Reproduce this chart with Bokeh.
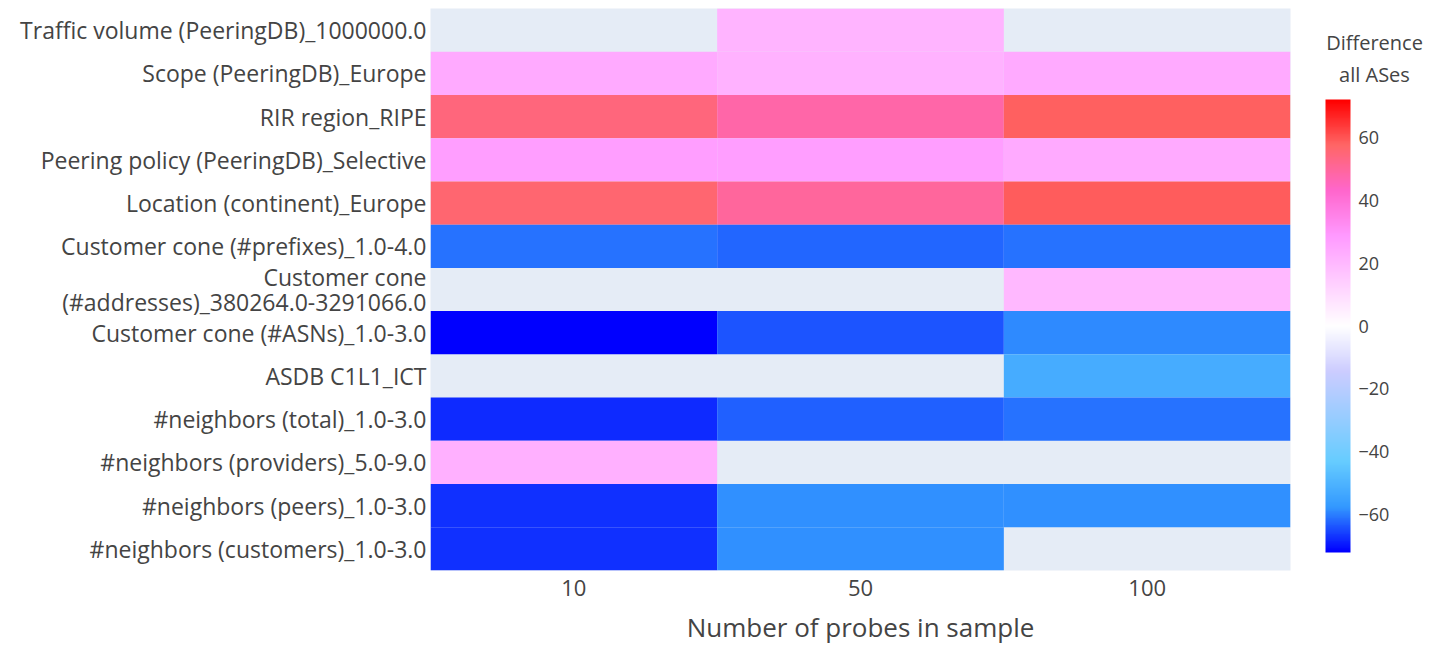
import math
from bokeh.plotting import figure
from bokeh.layouts import row
from bokeh.models import (ColumnDataSource, LinearColorMapper, ColorBar, FixedTicker,
                          FactorRange, Range1d, Label)
from bokeh.embed import file_html
from bokeh.resources import INLINE

nan = float("nan")

rows = [
    "Traffic volume (PeeringDB)_1000000.0",
    "Scope (PeeringDB)_Europe",
    "RIR region_RIPE",
    "Peering policy (PeeringDB)_Selective",
    "Location (continent)_Europe",
    "Customer cone (#prefixes)_1.0-4.0",
    "Customer cone (#addresses)_380264.0-3291066.0",
    "Customer cone (#ASNs)_1.0-3.0",
    "ASDB C1L1_ICT",
    "#neighbors (total)_1.0-3.0",
    "#neighbors (providers)_5.0-9.0",
    "#neighbors (peers)_1.0-3.0",
    "#neighbors (customers)_1.0-3.0",
]
probes = ["10", "50", "100"]
diff_10 = [nan, 24, 54, 27, 56, -61, nan, -72, nan, -68, 22, -67, -67.5]
diff_50 = [21, 21.5, 48, 27, 50, -62, nan, -64, nan, -63, nan, -58, -58]
diff_100 = [nan, 24, 58, 24, 59, -61, 20, -59, -52, -61, nan, -58, nan]
cbar_ticks = [-60, -40, -20, 0, 20, 40, 60]
cbar_title = "Difference\nall ASes"
zmin, zmax = -72, 72

# Plotly "Picnic" colorscale, interpolated into a 256-colour palette
picnic = [(0, 0, 255), (51, 153, 255), (102, 204, 255), (153, 204, 255), (204, 204, 255),
          (255, 255, 255), (255, 204, 255), (255, 153, 255), (255, 102, 204),
          (255, 102, 102), (255, 0, 0)]
palette = []
n = 256
for i in range(n):
    t = i / (n - 1) * (len(picnic) - 1)
    k = min(int(t), len(picnic) - 2)
    f = t - k
    c = [round(picnic[k][j] + (picnic[k + 1][j] - picnic[k][j]) * f) for j in range(3)]
    palette.append("#%02x%02x%02x" % tuple(c))

nrows = len(rows)
row_pos = {r: nrows - 1 - i for i, r in enumerate(rows)}   # first row on top

xs, ys, vs = [], [], []
for col, vals in zip(probes, [diff_10, diff_50, diff_100]):
    for r, v in zip(rows, vals):
        if not math.isnan(v):
            xs.append(col)
            ys.append(row_pos[r])
            vs.append(v)
src = ColumnDataSource(dict(x=xs, y=ys, v=vs))

mapper = LinearColorMapper(palette=palette, low=zmin, high=zmax)

FONT = "Open Sans"
TXT = "#444444"

# ---------------- heatmap ----------------
p = figure(width=1310, height=647, output_backend="svg", toolbar_location=None,
           x_range=FactorRange(factors=probes, range_padding=0),
           y_range=Range1d(-0.5, nrows - 0.5),
           min_border_left=430, min_border_right=20, min_border_top=8, min_border_bottom=77)
p.background_fill_color = "#E5ECF6"
p.border_fill_color = "white"
p.outline_line_color = None
p.grid.visible = False

p.rect(x="x", y="y", width=1, height=1, source=src,
       fill_color={"field": "v", "transform": mapper}, line_color=None)

for ax in (p.xaxis[0], p.yaxis[0]):
    ax.axis_line_color = None
    ax.major_tick_line_color = None
    ax.minor_tick_line_color = None
    ax.major_label_text_font = FONT
    ax.major_label_text_color = TXT

xa = p.xaxis[0]
xa.axis_label = "Number of probes in sample"
xa.major_label_text_font_size = "22px"
xa.major_label_standoff = 3
xa.axis_label_text_font = FONT
xa.axis_label_text_font_size = "26px"
xa.axis_label_text_font_style = "normal"
xa.axis_label_text_color = TXT
xa.axis_label_standoff = 10


def wrap(label):
    # very long category names are broken before their bracket so they fit left of the map
    return label.replace(" (", "\n(", 1) if len(label) > 40 else label


ya = p.yaxis[0]
ya.ticker = FixedTicker(ticks=[row_pos[r] for r in rows])
ya.major_label_overrides = {row_pos[r]: wrap(r) for r in rows}
ya.major_label_text_font_size = "23px"
ya.major_label_standoff = -2
ya.major_label_text_line_height = 0.8

# ---------------- colour bar panel ----------------
pc = figure(width=120, height=647, output_backend="svg", toolbar_location=None,
            x_range=Range1d(0, 1), y_range=Range1d(0, 1),
            x_axis_location=None, y_axis_location=None,
            min_border_left=0, min_border_right=0, min_border_top=0, min_border_bottom=0)
pc.background_fill_color = "white"
pc.border_fill_color = "white"
pc.outline_line_color = None
pc.grid.visible = False

cb = ColorBar(color_mapper=mapper, ticker=FixedTicker(ticks=cbar_ticks),
              major_label_overrides={t: str(t).replace("-", "\u2212") for t in cbar_ticks},
              width=25, height=453, location=(5, 8),
              padding=10, margin=0, title=None,
              major_label_text_font=FONT, major_label_text_font_size="18px",
              major_label_text_color=TXT, label_standoff=8,
              major_tick_line_color=None, minor_tick_line_color=None,
              bar_line_color=None, background_fill_color=None, border_line_color=None)
pc.add_layout(cb, "center")

title = Label(x=64, y=58, x_units="canvas", y_units="canvas", text=cbar_title,
              text_align="center", text_baseline="middle", text_line_height=1.2,
              text_font=FONT, text_font_size="20px", text_color=TXT)
pc.add_layout(title)

layout = row(p, pc)
open("out.html", "w").write(file_html(layout, INLINE))
